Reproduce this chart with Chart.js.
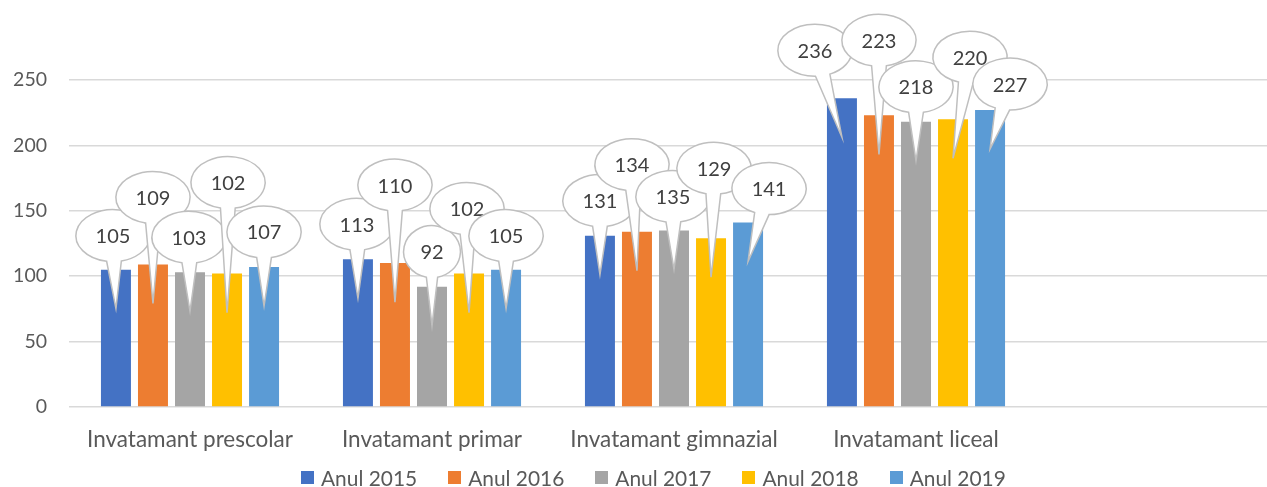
<!DOCTYPE html>
<html>
<head>
<meta charset="utf-8">
<script src="https://cdn.jsdelivr.net/npm/chart.js@4.4.0/dist/chart.umd.min.js"></script>
<style>
  html, body { margin: 0; padding: 0; background: #fff; overflow: hidden; }
  #wrap { position: absolute; left: 0; top: 0; width: 1280px; height: 487px; }
  #legend { position: absolute; left: 301px; top: 465px; display: flex; gap: 31px;
            font: 20.9px Lato, sans-serif; color: #595959; white-space: nowrap; }
  #legend .item { display: flex; align-items: center; }
  #legend .box { width: 13px; height: 13px; margin-right: 7px; }
</style>
</head>
<body>
<div id="wrap"><canvas id="chart"></canvas></div>
<div id="legend"></div>
<script>
const categories = ["Invatamant prescolar", "Invatamant primar", "Invatamant gimnazial", "Invatamant liceal", ""];
const years = ["Anul 2015", "Anul 2016", "Anul 2017", "Anul 2018", "Anul 2019"];
const anul2015 = [105, 113, 131, 236, null];
const anul2016 = [109, 110, 134, 223, null];
const anul2017 = [103, 92, 135, 218, null];
const anul2018 = [102, 102, 129, 220, null];
const anul2019 = [107, 105, 141, 227, null];
const yTicks = [0, 50, 100, 150, 200, 250];

const series = [anul2015, anul2016, anul2017, anul2018, anul2019];
const colors = ["#4472C4", "#ED7D31", "#A5A5A5", "#FFC000", "#5B9BD5"];

// where each callout bubble sits relative to the top of its bar (px)
const calloutShift = [
  [[-3, -34], [-1, -35], [0, -35], [-27, -48]],
  [[0, -67], [0, -78], [-5, -67], [0, -75]],
  [[-1, -35], [0, -35], [-1, -34], [0, -35]],
  [[1, -91], [-2, -65], [3, -70], [17, -62]],
  [[0, -35], [0, -34], [21, -34], [20, -26]]
];

const textColor = "#595959";

// speech-bubble data labels
const callouts = {
  id: "callouts",
  afterDatasetsDraw(chart, args, opts) {
    const ctx = chart.ctx;
    ctx.save();
    ctx.font = "20px Lato";
    ctx.textAlign = "center";
    ctx.textBaseline = "middle";
    chart.data.datasets.forEach((ds, di) => {
      const meta = chart.getDatasetMeta(di);
      meta.data.forEach((bar, i) => {
        const v = ds.data[i];
        if (v == null) return;
        const shift = opts.shift[di][i];
        const label = String(v);
        const tw = ctx.measureText(label).width;
        const rx = tw * 0.75 + 11;
        const ry = 26;
        const cx = bar.x + shift[0];
        const cy = bar.y + shift[1];
        const tx = bar.x;
        const ty = bar.y + opts.tipDepth;
        const t = Math.atan2((ty - cy) / ry, (tx - cx) / rx);
        const d = 0.2;
        ctx.beginPath();
        ctx.ellipse(cx, cy, rx, ry, 0, t + d, t - d + Math.PI * 2);
        ctx.lineTo(tx, ty);
        ctx.closePath();
        ctx.fillStyle = "#ffffff";
        ctx.fill();
        ctx.strokeStyle = "#bfbfbf";
        ctx.lineWidth = 1.5;
        ctx.stroke();
        ctx.fillStyle = "#404040";
        ctx.fillText(label, cx, cy + 1);
      });
    });
    ctx.restore();
  }
};

const chart = new Chart(document.getElementById("chart"), {
  type: "bar",
  data: {
    labels: categories,
    datasets: years.map((y, i) => ({
      label: y,
      data: series[i],
      backgroundColor: colors[i],
      categoryPercentage: 0.765,
      barPercentage: 0.81
    }))
  },
  options: {
    responsive: true,
    maintainAspectRatio: false,
    animation: false,
    layout: { padding: { top: 80, right: 1, left: 0, bottom: 0 } },
    plugins: {
      legend: { display: false },
      tooltip: { enabled: false },
      callouts: { shift: calloutShift, tipDepth: 39 }
    },
    scales: {
      x: {
        grid: { display: false },
        border: { display: false },
        ticks: { color: textColor, font: { family: "Lato", size: 22.5 }, padding: 11, maxRotation: 0 },
        afterFit: s => { s.height = 80; }
      },
      y: {
        min: 0,
        max: 250,
        afterBuildTicks: s => { s.ticks = yTicks.map(v => ({ value: v })); },
        ticks: { color: textColor, font: { family: "Lato", size: 19.5 }, padding: 22 },
        grid: { color: "#d9d9d9", lineWidth: 1.5, drawTicks: false },
        border: { display: false },
        afterFit: s => { s.width = 69; }
      }
    }
  },
  plugins: [callouts]
});

// legend built from the datasets
const legend = document.getElementById("legend");
chart.data.datasets.forEach(ds => {
  const item = document.createElement("div");
  item.className = "item";
  const box = document.createElement("span");
  box.className = "box";
  box.style.background = ds.backgroundColor;
  const txt = document.createElement("span");
  txt.textContent = ds.label;
  item.appendChild(box);
  item.appendChild(txt);
  legend.appendChild(item);
});
</script>
</body>
</html>
